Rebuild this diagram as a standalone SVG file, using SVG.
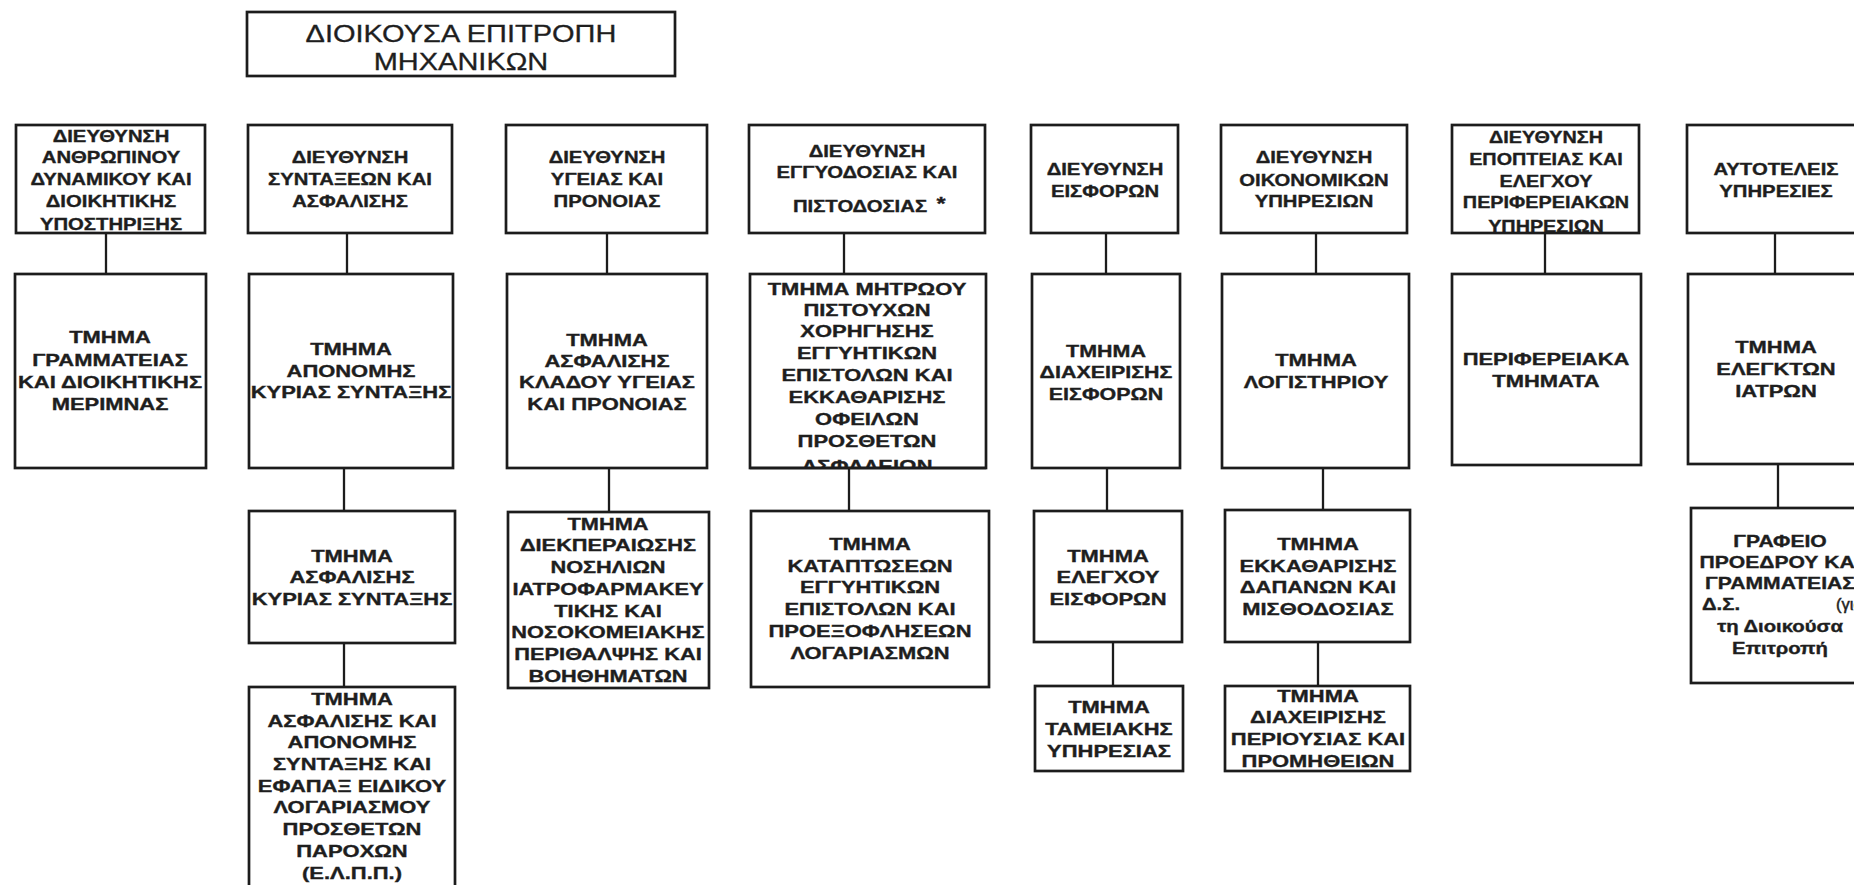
<svg xmlns="http://www.w3.org/2000/svg" width="1854" height="885" viewBox="0 0 1854 885">
<style>
.box{fill:#fff;stroke:#1c1c1c;stroke-width:2.7}
.t{font-family:"Liberation Sans",Arial,sans-serif;font-weight:bold;font-size:16.5px;fill:#1e1e1e;stroke:#1e1e1e;stroke-width:0.35;text-anchor:middle}
.s{text-anchor:start}
.r{font-weight:normal;stroke-width:0.5}
.title{font-family:"Liberation Sans",Arial,sans-serif;font-weight:normal;font-size:23px;fill:#1e1e1e;stroke:#1e1e1e;stroke-width:0.3;text-anchor:middle}
.conn line{stroke:#1c1c1c;stroke-width:2.3}
</style>
<defs>
<clipPath id="clip-r2c4"><rect x="750" y="274" width="236" height="194"/></clipPath>
</defs>
<rect x="0" y="0" width="1854" height="885" fill="#fff"/>

<g id="connectors" class="conn">
<line x1="106" y1="233" x2="106" y2="274"/>
<line x1="347" y1="233" x2="347" y2="274"/>
<line x1="344" y1="468" x2="344" y2="511"/>
<line x1="344" y1="643" x2="344" y2="687"/>
<line x1="607" y1="233" x2="607" y2="274"/>
<line x1="609" y1="468" x2="609" y2="512"/>
<line x1="844" y1="233" x2="844" y2="274"/>
<line x1="849" y1="468" x2="849" y2="511"/>
<line x1="1106" y1="233" x2="1106" y2="274"/>
<line x1="1107" y1="468" x2="1107" y2="511"/>
<line x1="1113" y1="642" x2="1113" y2="686"/>
<line x1="1316" y1="233" x2="1316" y2="274"/>
<line x1="1323" y1="468" x2="1323" y2="510"/>
<line x1="1318" y1="642" x2="1318" y2="686"/>
<line x1="1545" y1="233" x2="1545" y2="274"/>
<line x1="1775" y1="233" x2="1775" y2="274"/>
<line x1="1778" y1="465" x2="1778" y2="508"/>
</g>

<g id="n-top">
<rect class="box" x="247" y="12" width="428" height="64"/>
<text class="title" transform="translate(461 0) scale(1.26 1)"><tspan x="0" y="42">ΔΙΟΙΚΟΥΣΑ ΕΠΙΤΡΟΠΗ</tspan><tspan x="0" y="70">ΜΗΧΑΝΙΚΩΝ</tspan></text>
</g>

<g id="n-r1c1">
<rect class="box" x="16" y="125" width="189" height="108"/>
<text class="t" transform="translate(111 0) scale(1.23 1)"><tspan x="0" y="142">ΔΙΕΥΘΥΝΣΗ</tspan><tspan x="0" y="163">ΑΝΘΡΩΠΙΝΟΥ</tspan><tspan x="0" y="185">ΔΥΝΑΜΙΚΟΥ ΚΑΙ</tspan><tspan x="0" y="207">ΔΙΟΙΚΗΤΙΚΗΣ</tspan><tspan x="0" y="230">ΥΠΟΣΤΗΡΙΞΗΣ</tspan></text>
</g>
<g id="n-r1c2">
<rect class="box" x="248" y="125" width="204" height="108"/>
<text class="t" transform="translate(350 0) scale(1.23 1)"><tspan x="0" y="163">ΔΙΕΥΘΥΝΣΗ</tspan><tspan x="0" y="185">ΣΥΝΤΑΞΕΩΝ ΚΑΙ</tspan><tspan x="0" y="207">ΑΣΦΑΛΙΣΗΣ</tspan></text>
</g>
<g id="n-r1c3">
<rect class="box" x="506" y="125" width="201" height="108"/>
<text class="t" transform="translate(607 0) scale(1.23 1)"><tspan x="0" y="163">ΔΙΕΥΘΥΝΣΗ</tspan><tspan x="0" y="185">ΥΓΕΙΑΣ ΚΑΙ</tspan><tspan x="0" y="207">ΠΡΟΝΟΙΑΣ</tspan></text>
</g>
<g id="n-r1c4">
<rect class="box" x="749" y="125" width="236" height="108"/>
<text class="t" transform="translate(867 0) scale(1.23 1)"><tspan x="0" y="157">ΔΙΕΥΘΥΝΣΗ</tspan><tspan x="0" y="178">ΕΓΓΥΟΔΟΣΙΑΣ ΚΑΙ</tspan><tspan x="-5.7" y="212">ΠΙΣΤΟΔΟΣΙΑΣ</tspan></text>
<text class="t" transform="translate(941 0) scale(1.23 1)" style="font-size:19px"><tspan x="0" y="210">*</tspan></text>
</g>
<g id="n-r1c5">
<rect class="box" x="1031" y="125" width="147" height="108"/>
<text class="t" transform="translate(1105 0) scale(1.23 1)"><tspan x="0" y="175">ΔΙΕΥΘΥΝΣΗ</tspan><tspan x="0" y="197">ΕΙΣΦΟΡΩΝ</tspan></text>
</g>
<g id="n-r1c6">
<rect class="box" x="1221" y="125" width="186" height="108"/>
<text class="t" transform="translate(1314 0) scale(1.23 1)"><tspan x="0" y="163">ΔΙΕΥΘΥΝΣΗ</tspan><tspan x="0" y="186">ΟΙΚΟΝΟΜΙΚΩΝ</tspan><tspan x="0" y="207">ΥΠΗΡΕΣΙΩΝ</tspan></text>
</g>
<g id="n-r1c7">
<rect class="box" x="1452" y="125" width="187" height="108"/>
<text class="t" transform="translate(1546 0) scale(1.2 1)"><tspan x="0" y="143">ΔΙΕΥΘΥΝΣΗ</tspan><tspan x="0" y="165">ΕΠΟΠΤΕΙΑΣ ΚΑΙ</tspan><tspan x="0" y="187">ΕΛΕΓΧΟΥ</tspan><tspan x="0" y="208">ΠΕΡΙΦΕΡΕΙΑΚΩΝ</tspan><tspan x="0" y="232">ΥΠΗΡΕΣΙΩΝ</tspan></text>
</g>
<g id="n-r1c8">
<rect class="box" x="1687" y="125" width="178" height="108"/>
<text class="t" transform="translate(1776 0) scale(1.23 1)"><tspan x="0" y="175">ΑΥΤΟΤΕΛΕΙΣ</tspan><tspan x="0" y="197">ΥΠΗΡΕΣΙΕΣ</tspan></text>
</g>

<g id="n-r2c1">
<rect class="box" x="15" y="274" width="191" height="194"/>
<text class="t" transform="translate(110 0) scale(1.33 1)"><tspan x="0" y="343">ΤΜΗΜΑ</tspan><tspan x="0" y="366">ΓΡΑΜΜΑΤΕΙΑΣ</tspan><tspan x="0" y="388">ΚΑΙ ΔΙΟΙΚΗΤΙΚΗΣ</tspan><tspan x="0" y="410">ΜΕΡΙΜΝΑΣ</tspan></text>
</g>
<g id="n-r2c2">
<rect class="box" x="249" y="274" width="204" height="194"/>
<text class="t" transform="translate(351 0) scale(1.33 1)"><tspan x="0" y="355">ΤΜΗΜΑ</tspan><tspan x="0" y="377">ΑΠΟΝΟΜΗΣ</tspan><tspan x="0" y="398">ΚΥΡΙΑΣ ΣΥΝΤΑΞΗΣ</tspan></text>
</g>
<g id="n-r2c3">
<rect class="box" x="507" y="274" width="200" height="194"/>
<text class="t" transform="translate(607 0) scale(1.33 1)"><tspan x="0" y="346">ΤΜΗΜΑ</tspan><tspan x="0" y="367">ΑΣΦΑΛΙΣΗΣ</tspan><tspan x="0" y="388">ΚΛΑΔΟΥ ΥΓΕΙΑΣ</tspan><tspan x="0" y="410">ΚΑΙ ΠΡΟΝΟΙΑΣ</tspan></text>
</g>
<g id="n-r2c4">
<rect class="box" x="750" y="274" width="236" height="194"/>
<g clip-path="url(#clip-r2c4)">
<text class="t" transform="translate(867 0) scale(1.33 1)"><tspan x="0" y="295">ΤΜΗΜΑ ΜΗΤΡΩΟΥ</tspan><tspan x="0" y="316">ΠΙΣΤΟΥΧΩΝ</tspan><tspan x="0" y="337">ΧΟΡΗΓΗΣΗΣ</tspan><tspan x="0" y="359">ΕΓΓΥΗΤΙΚΩΝ</tspan><tspan x="0" y="381">ΕΠΙΣΤΟΛΩΝ ΚΑΙ</tspan><tspan x="0" y="403">ΕΚΚΑΘΑΡΙΣΗΣ</tspan><tspan x="0" y="425">ΟΦΕΙΛΩΝ</tspan><tspan x="0" y="447">ΠΡΟΣΘΕΤΩΝ</tspan><tspan x="0" y="472">ΑΣΦΑΛΕΙΩΝ</tspan></text>
</g>
<line x1="750" y1="468" x2="986" y2="468" stroke="#1c1c1c" stroke-width="2.7"/>
</g>
<g id="n-r2c5">
<rect class="box" x="1032" y="274" width="148" height="194"/>
<text class="t" transform="translate(1106 0) scale(1.3 1)"><tspan x="0" y="357">ΤΜΗΜΑ</tspan><tspan x="0" y="378">ΔΙΑΧΕΙΡΙΣΗΣ</tspan><tspan x="0" y="400">ΕΙΣΦΟΡΩΝ</tspan></text>
</g>
<g id="n-r2c6">
<rect class="box" x="1222" y="274" width="187" height="194"/>
<text class="t" transform="translate(1316 0) scale(1.33 1)"><tspan x="0" y="366">ΤΜΗΜΑ</tspan><tspan x="0" y="388">ΛΟΓΙΣΤΗΡΙΟΥ</tspan></text>
</g>
<g id="n-r2c7">
<rect class="box" x="1452" y="274" width="189" height="191"/>
<text class="t" transform="translate(1546 0) scale(1.33 1)"><tspan x="0" y="365">ΠΕΡΙΦΕΡΕΙΑΚΑ</tspan><tspan x="0" y="387">ΤΜΗΜΑΤΑ</tspan></text>
</g>
<g id="n-r2c8">
<rect class="box" x="1688" y="274" width="178" height="190"/>
<text class="t" transform="translate(1776 0) scale(1.33 1)"><tspan x="0" y="353">ΤΜΗΜΑ</tspan><tspan x="0" y="375">ΕΛΕΓΚΤΩΝ</tspan><tspan x="0" y="397">ΙΑΤΡΩΝ</tspan></text>
</g>

<g id="n-r3c2">
<rect class="box" x="249" y="511" width="206" height="132"/>
<text class="t" transform="translate(352 0) scale(1.33 1)"><tspan x="0" y="562">ΤΜΗΜΑ</tspan><tspan x="0" y="583">ΑΣΦΑΛΙΣΗΣ</tspan><tspan x="0" y="605">ΚΥΡΙΑΣ ΣΥΝΤΑΞΗΣ</tspan></text>
</g>
<g id="n-r3c3">
<rect class="box" x="508" y="512" width="201" height="176"/>
<text class="t" transform="translate(608 0) scale(1.32 1)"><tspan x="0" y="530">ΤΜΗΜΑ</tspan><tspan x="0" y="551">ΔΙΕΚΠΕΡΑΙΩΣΗΣ</tspan><tspan x="0" y="573">ΝΟΣΗΛΙΩΝ</tspan><tspan x="0" y="595">ΙΑΤΡΟΦΑΡΜΑΚΕΥ</tspan><tspan x="0" y="617">ΤΙΚΗΣ ΚΑΙ</tspan><tspan x="0" y="638">ΝΟΣΟΚΟΜΕΙΑΚΗΣ</tspan><tspan x="0" y="660">ΠΕΡΙΘΑΛΨΗΣ ΚΑΙ</tspan><tspan x="0" y="682">ΒΟΗΘΗΜΑΤΩΝ</tspan></text>
</g>
<g id="n-r3c4">
<rect class="box" x="751" y="511" width="238" height="176"/>
<text class="t" transform="translate(870 0) scale(1.33 1)"><tspan x="0" y="550">ΤΜΗΜΑ</tspan><tspan x="0" y="572">ΚΑΤΑΠΤΩΣΕΩΝ</tspan><tspan x="0" y="593">ΕΓΓΥΗΤΙΚΩΝ</tspan><tspan x="0" y="615">ΕΠΙΣΤΟΛΩΝ ΚΑΙ</tspan><tspan x="0" y="637">ΠΡΟΕΞΟΦΛΗΣΕΩΝ</tspan><tspan x="0" y="659">ΛΟΓΑΡΙΑΣΜΩΝ</tspan></text>
</g>
<g id="n-r3c5">
<rect class="box" x="1034" y="511" width="148" height="131"/>
<text class="t" transform="translate(1108 0) scale(1.33 1)"><tspan x="0" y="562">ΤΜΗΜΑ</tspan><tspan x="0" y="583">ΕΛΕΓΧΟΥ</tspan><tspan x="0" y="605">ΕΙΣΦΟΡΩΝ</tspan></text>
</g>
<g id="n-r3c6">
<rect class="box" x="1225" y="510" width="185" height="132"/>
<text class="t" transform="translate(1318 0) scale(1.33 1)"><tspan x="0" y="550">ΤΜΗΜΑ</tspan><tspan x="0" y="572">ΕΚΚΑΘΑΡΙΣΗΣ</tspan><tspan x="0" y="593">ΔΑΠΑΝΩΝ ΚΑΙ</tspan><tspan x="0" y="615">ΜΙΣΘΟΔΟΣΙΑΣ</tspan></text>
</g>
<g id="n-r3c8">
<rect class="box" x="1691" y="508" width="179" height="175"/>
<text class="t" transform="translate(1780 0) scale(1.28 1)"><tspan x="0" y="547">ΓΡΑΦΕΙΟ</tspan><tspan x="0" y="568">ΠΡΟΕΔΡΟΥ ΚΑΙ</tspan><tspan x="0" y="589">ΓΡΑΜΜΑΤΕΙΑΣ</tspan></text>
<text class="t" transform="translate(1780 0) scale(1.23 1)"><tspan x="0" y="632">τη Διοικούσα</tspan><tspan x="0" y="654">Επιτροπή</tspan></text>
<text class="t s" transform="translate(1702 0) scale(1.23 1)"><tspan x="0" y="610">Δ.Σ.</tspan></text>
<text class="t s r" x="1836" y="610">(για</text>
</g>

<g id="n-r4c2">
<rect class="box" x="249" y="687" width="206" height="215"/>
<text class="t" transform="translate(352 0) scale(1.33 1)"><tspan x="0" y="705">ΤΜΗΜΑ</tspan><tspan x="0" y="727">ΑΣΦΑΛΙΣΗΣ ΚΑΙ</tspan><tspan x="0" y="748">ΑΠΟΝΟΜΗΣ</tspan><tspan x="0" y="770">ΣΥΝΤΑΞΗΣ ΚΑΙ</tspan><tspan x="0" y="792">ΕΦΑΠΑΞ ΕΙΔΙΚΟΥ</tspan><tspan x="0" y="813">ΛΟΓΑΡΙΑΣΜΟΥ</tspan><tspan x="0" y="835">ΠΡΟΣΘΕΤΩΝ</tspan><tspan x="0" y="857">ΠΑΡΟΧΩΝ</tspan><tspan x="0" y="879">(Ε.Λ.Π.Π.)</tspan></text>
</g>
<g id="n-r4c5">
<rect class="box" x="1035" y="686" width="148" height="85"/>
<text class="t" transform="translate(1109 0) scale(1.33 1)"><tspan x="0" y="713">ΤΜΗΜΑ</tspan><tspan x="0" y="735">ΤΑΜΕΙΑΚΗΣ</tspan><tspan x="0" y="757">ΥΠΗΡΕΣΙΑΣ</tspan></text>
</g>
<g id="n-r4c6">
<rect class="box" x="1225" y="686" width="185" height="85"/>
<text class="t" transform="translate(1318 0) scale(1.33 1)"><tspan x="0" y="702">ΤΜΗΜΑ</tspan><tspan x="0" y="723">ΔΙΑΧΕΙΡΙΣΗΣ</tspan><tspan x="0" y="745">ΠΕΡΙΟΥΣΙΑΣ ΚΑΙ</tspan><tspan x="0" y="767">ΠΡΟΜΗΘΕΙΩΝ</tspan></text>
</g>
</svg>
